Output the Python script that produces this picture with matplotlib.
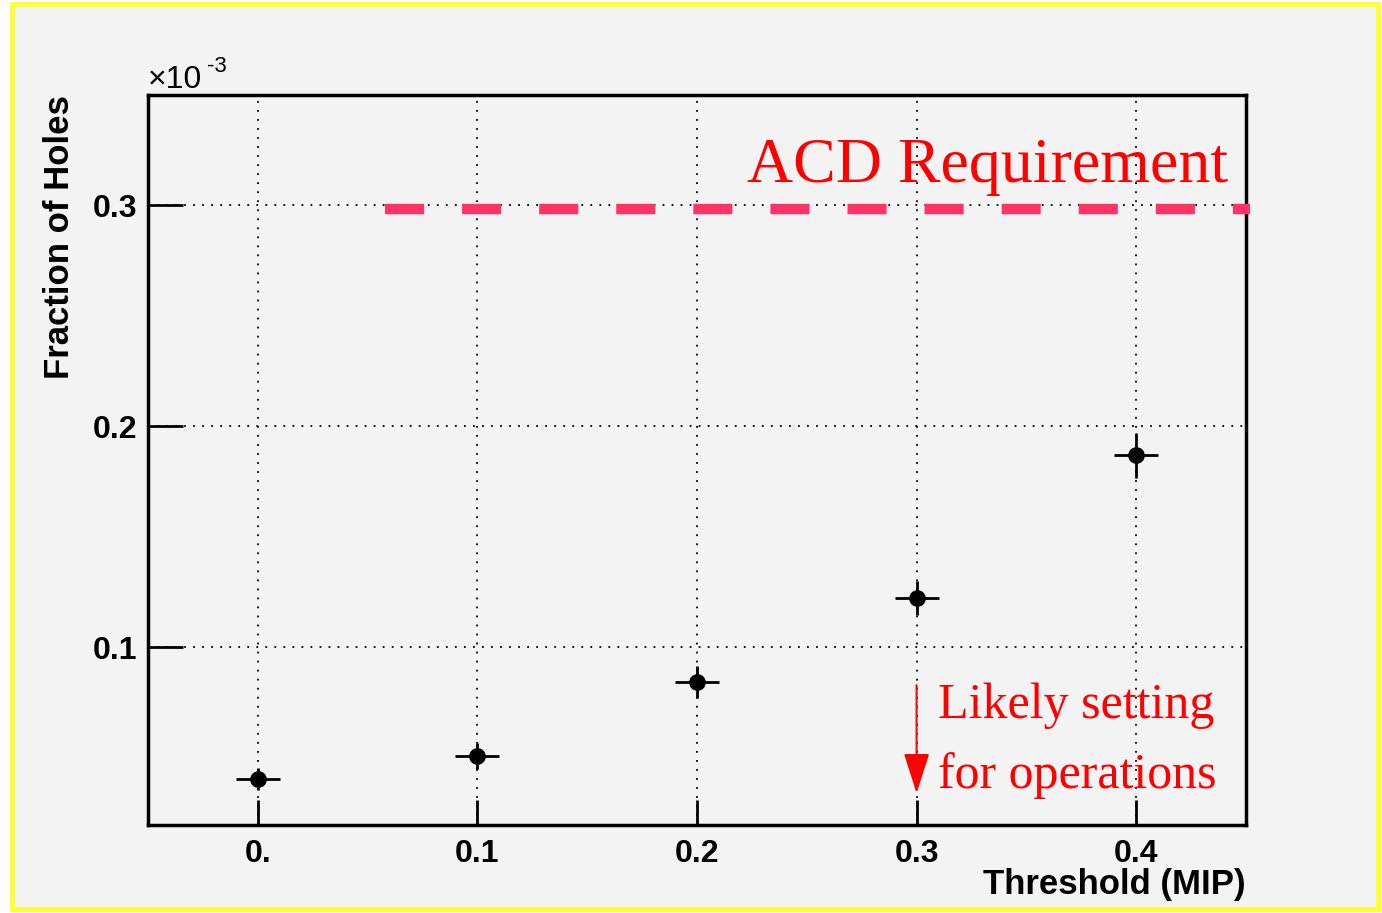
import matplotlib
matplotlib.use("Agg")
import matplotlib.pyplot as plt
from matplotlib.patches import Rectangle

# threshold (MIP) vs fraction of holes (x 1e-3)
threshold = [0.0, 0.1, 0.2, 0.3, 0.4]
holes = [0.0403, 0.0507, 0.0842, 0.1222, 0.1869]
holes_err = [0.005, 0.006, 0.0073, 0.0078, 0.0102]
thr_err = [0.01, 0.01, 0.01, 0.01, 0.01]

requirement = 0.2985
req_start = 0.058

x_ticks = [0.0, 0.1, 0.2, 0.3, 0.4]
x_labels = ["0.", "0.1", "0.2", "0.3", "0.4"]
y_ticks = [0.1, 0.2, 0.3]
y_labels = ["0.1", "0.2", "0.3"]

bg = "#f3f3f3"
fig = plt.figure(figsize=(13.82, 9.13), dpi=100)
fig.patch.set_facecolor("white")
border = Rectangle((12 / 1382, 4 / 913), 1366 / 1382, 905 / 913,
                   transform=fig.transFigure, facecolor=bg,
                   edgecolor="#ffff33", linewidth=3.5, zorder=-10)
fig.patches.append(border)

ax = fig.add_axes([148 / 1382, 1 - 825 / 913, 1098 / 1382, 730 / 913])
ax.set_facecolor(bg)
ax.set_xlim(-0.05, 0.45)
ax.set_ylim(0.0195, 0.35)

ax.grid(True, color="black", linestyle=(0, (1, 4)), linewidth=1.3)
ax.set_axisbelow(True)

ax.errorbar(threshold, holes, yerr=holes_err, xerr=thr_err, fmt="o",
            color="black", markersize=11, elinewidth=2, capsize=0, zorder=3)

# requirement line
ax.plot([req_start, 0.452], [requirement, requirement], color="#ff3366",
        linewidth=7.5, linestyle=(0, (3.75, 3.65)), clip_on=False, zorder=4)

ax.text(0.442, 0.3104, "ACD Requirement", color="red", fontsize=46,
        family="Liberation Serif", ha="right", va="baseline")
ax.text(0.3096, 0.0679, "Likely setting", color="red", fontsize=36,
        family="Liberation Serif", ha="left", va="baseline")
ax.text(0.3096, 0.0362, "for operations", color="red", fontsize=36,
        family="Liberation Serif", ha="left", va="baseline")
ax.annotate("", xy=(0.3, 0.0339), xytext=(0.3, 0.0828),
            arrowprops=dict(arrowstyle="-|>,head_length=2.5,head_width=0.8",
                            color="red", linewidth=1.5, shrinkA=0, shrinkB=0))

ax.set_xticks(x_ticks)
ax.set_xticklabels(x_labels)
ax.set_yticks(y_ticks)
ax.set_yticklabels(y_labels)
ax.tick_params(axis="x", direction="in", length=18, width=2, pad=10)
ax.tick_params(axis="y", direction="in", length=25, width=2, pad=8)
for lab in ax.get_xticklabels() + ax.get_yticklabels():
    lab.set_family("Liberation Sans")
    lab.set_fontweight("bold")
    lab.set_fontsize(23)
for s in ax.spines.values():
    s.set_linewidth(2.5)

ax.set_xlabel("Threshold (MIP)", family="Liberation Sans", fontweight="bold",
              fontsize=25)
ax.xaxis.set_label_coords(1.0, -0.082)
ax.xaxis.label.set_horizontalalignment("right")
ax.xaxis.label.set_verticalalignment("center")
ax.set_ylabel("Fraction of Holes", family="Liberation Sans", fontweight="bold",
              fontsize=25)
ax.yaxis.set_label_coords(-0.081, 1.0)
ax.yaxis.label.set_verticalalignment("center")
ax.yaxis.label.set_horizontalalignment("right")

# axis multiplier
ax.text(0.0, 1.0, "\u00d710", transform=ax.transAxes,
        family="Liberation Sans", fontsize=23, ha="left", va="bottom")
ax.text(0.054, 1.024, "-3", transform=ax.transAxes,
        family="Liberation Sans", fontsize=16, ha="left", va="bottom")

plt.savefig("out.png", dpi=100, facecolor=fig.get_facecolor())
